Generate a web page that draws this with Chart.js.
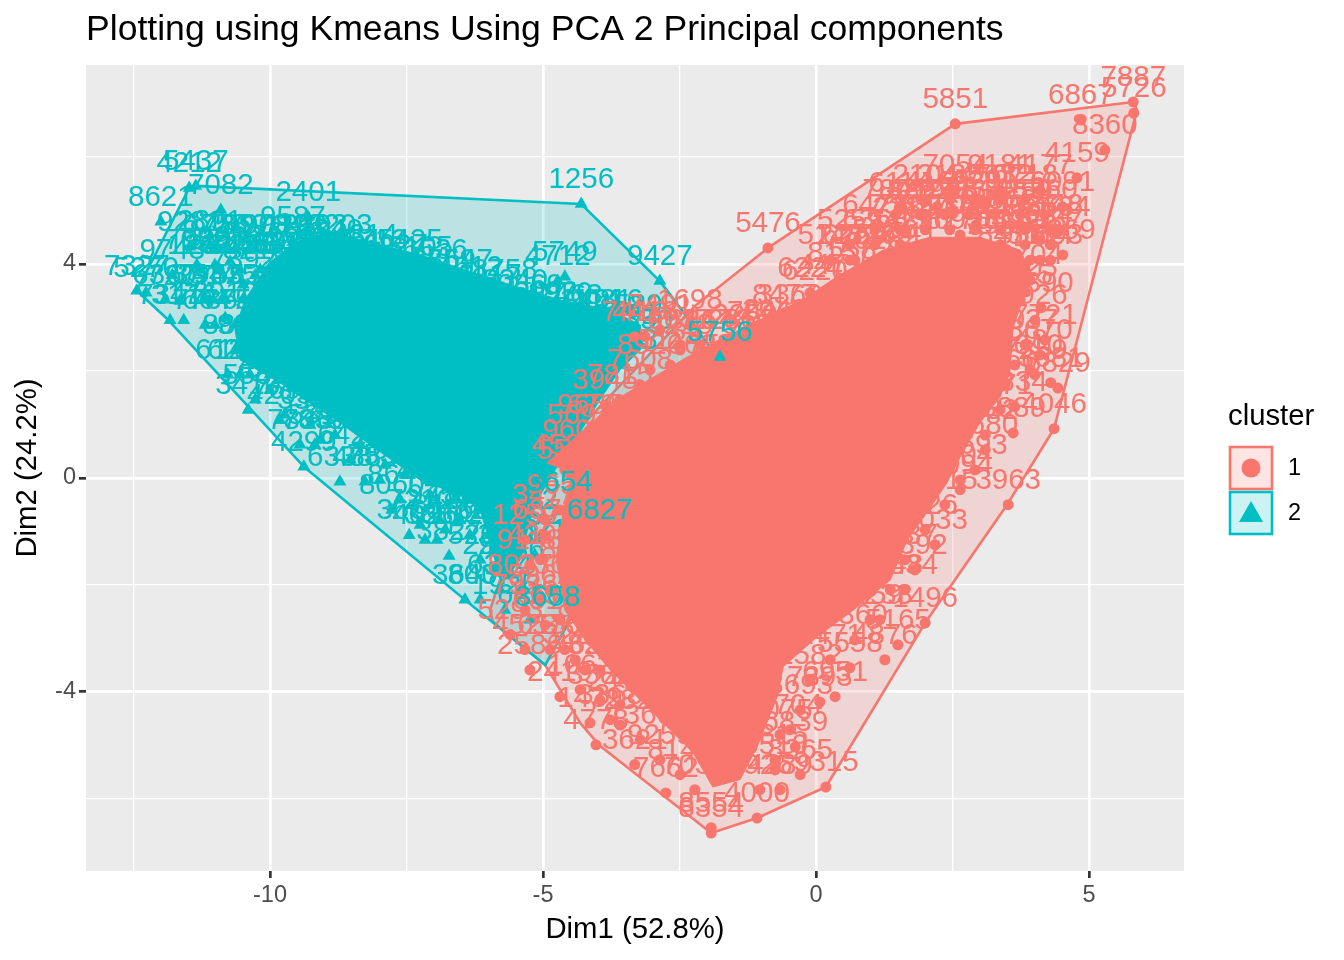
<!DOCTYPE html>
<html>
<head>
<meta charset="utf-8">
<script src="https://cdn.jsdelivr.net/npm/chart.js@4/dist/chart.umd.js"></script>
<style>
body { margin: 0; background: #fff; }
</style>
</head>
<body>
<canvas id="myChart" width="1344" height="960"></canvas>
<script>
"use strict";
const FONT = '"Liberation Sans", Arial, sans-serif';
const PINK = "#F8766D";
const TEAL = "#00BFC4";

const titleText = "Plotting using Kmeans Using PCA 2 Principal components";
const xAxisTitle = "Dim1 (52.8%)";
const yAxisTitle = "Dim2 (24.2%)";
const legendTitle = "cluster";
const clusterNames = ["1", "2"];

const xMajor = [-10, -5, 0, 5];
const xMinor = [-12.5, -7.5, -2.5, 2.5];
const yMajor = [-4, 0, 4];
const yMinor = [-6, -2, 2, 6];

// convex hulls
const hull1X = [2.55, 5.81, 5.88, 4.52, 4.36, 3.50, 2.00, 0.18, -1.08, -1.92, -3.96, -4.32, -4.96, -5.92, -5.97, -5.42, -4.93, -2.20, -0.88, 2.55];
const hull1Y = [6.62, 7.03, 6.88, 1.55, 0.92, -0.50, -2.71, -5.78, -6.36, -6.64, -5.01, -4.58, -3.50, -2.69, -2.47, -0.79, 0.28, 3.23, 4.30, 6.62];
const hull2X = [-12.44, -11.48, -11.36, -4.30, -2.86, -1.83, -4.96, -6.43, -9.38, -11.90, -12.44];
const hull2Y = [3.50, 5.42, 5.46, 5.12, 3.68, 2.30, -3.50, -2.28, 0.21, 2.99, 3.50];

// outline of the parts where points and labels overlap into a solid mass
const mass1X = [-4.93, -3.59, -2.36, -1.15, -0.24, 0.38, 1.23, 2.09, 3.00, 3.74, 3.97, 3.79, 3.61, 3.55, 3.37, 3.00, 2.64, 2.40, 2.03, 1.67, 1.36, 0.62, 0.02, -0.60, -0.71, -1.08, -1.39, -1.89, -2.25, -2.73, -3.22, -3.77, -4.23, -4.60, -4.76, -4.60, -4.45, -4.93];
const mass1Y = [0.28, 1.51, 2.26, 2.90, 3.33, 3.76, 4.26, 4.50, 4.50, 4.26, 3.76, 3.33, 2.82, 1.96, 1.51, 1.03, 0.39, -0.09, -0.65, -1.16, -1.91, -2.52, -2.97, -3.53, -4.09, -5.03, -5.64, -5.78, -5.14, -4.65, -4.15, -3.59, -3.03, -2.47, -1.53, -0.41, 0.09, 0.28];
const mass2X = [-10.46, -10.00, -9.45, -8.90, -7.99, -7.25, -6.04, -5.60, -4.69, -3.77, -3.22, -3.22, -3.59, -3.96, -4.41, -4.78, -5.05, -5.24, -5.42, -5.70, -5.88, -6.15, -6.52, -7.25, -8.11, -8.72, -9.82, -10.55, -10.64, -10.46];
const mass2Y = [3.33, 4.04, 4.45, 4.60, 4.36, 4.17, 3.76, 3.61, 3.33, 3.14, 2.86, 2.39, 2.02, 1.46, 0.71, 0.15, -0.32, -0.79, -1.53, -1.91, -1.53, -0.60, -0.32, -0.04, 0.58, 1.03, 1.78, 2.21, 2.77, 3.33];

// individually readable points, cluster 1
const ids1 = ["5851", "7887", "5726", "6867", "8360", "4159", "4177", "6091", "5476", "7054", "9181", "6114", "2385", "4169", "6291", "7924", "1854", "8684", "3684", "8634", "7369", "5164", "2958", "4623", "7023", "5390", "7721", "3670", "9010", "6829", "3681", "3834", "3889", "4046", "3963", "2680", "1094", "7033", "6392", "1834", "1496", "5165", "8233", "4876", "5558", "6951", "7393", "6839", "4075", "6510", "8265", "9315", "4289", "4000", "8354", "8554", "7662", "3621", "4778", "7282", "1439", "3368", "2419", "1062", "2586", "4523", "5293", "6135", "3289", "9106", "8251", "7935", "1358", "5962", "8422", "4309", "6873", "9650", "5517", "9602", "9655", "3945", "7608", "5124", "4413", "7419", "7491", "1698", "5228", "8867", "2867", "7046", "8477", "6224", "6220", "8157", "2277", "5286", "7026", "3541", "4628", "7529", "9133", "2048"];
const pts1X = [2.55, 5.81, 5.82, 4.85, 5.29, 4.78, 4.10, 4.51, -0.88, 2.55, 3.37, 1.54, 1.63, 2.22, 3.10, 1.99, 2.93, 3.74, 4.10, 4.43, 4.52, 4.10, 3.37, 2.64, 3.83, 4.12, 4.19, 4.10, 3.92, 4.43, 4.30, 3.64, 3.61, 4.36, 3.52, 3.10, 2.64, 2.18, 1.81, 1.63, 2.00, 1.50, 1.17, 1.26, 0.62, 0.35, 0.07, -0.38, -0.66, -0.75, -0.29, 0.18, -0.66, -1.08, -1.92, -1.92, -2.75, -3.32, -4.03, -3.59, -4.14, -3.77, -4.69, -4.32, -5.24, -5.33, -5.60, -4.87, -4.41, -4.14, -3.96, -4.69, -3.77, -5.05, -4.45, -5.05, -4.96, -4.69, -4.51, -4.41, -4.14, -3.86, -3.22, -2.67, -3.13, -3.32, -2.86, -2.31, -2.49, -2.12, -1.39, -1.03, -0.57, -0.11, -0.02, 0.44, 0.62, 1.26, 0.99, 1.63, -2.12, -1.76, -1.12, -0.75];
const pts1Y = [6.62, 7.03, 6.82, 6.69, 6.13, 5.61, 5.38, 5.07, 4.30, 5.38, 5.38, 5.05, 4.58, 5.07, 5.10, 4.92, 4.73, 4.73, 4.45, 4.60, 4.17, 4.07, 4.26, 4.54, 3.48, 3.18, 2.58, 2.30, 2.02, 1.68, 1.78, 1.33, 0.84, 0.92, -0.50, 0.52, -0.22, -1.25, -1.72, -2.09, -2.71, -3.12, -2.65, -3.40, -3.55, -4.09, -4.19, -5.03, -4.80, -5.46, -5.55, -5.78, -5.83, -6.36, -6.64, -6.54, -5.89, -5.36, -4.99, -4.62, -4.58, -4.52, -4.09, -3.96, -3.59, -3.21, -2.93, -3.21, -3.40, -3.03, -3.59, -2.65, -3.03, -2.28, -1.81, -1.53, -1.07, -0.60, 0.06, 0.43, 0.90, 1.36, 1.74, 2.11, 2.64, 2.64, 2.77, 2.86, 2.39, 2.49, 2.49, 2.64, 2.95, 3.46, 3.40, 3.74, 4.07, 4.17, 3.98, 4.11, 2.02, 2.02, 2.39, 2.67];

// overlapping points round the edge of the cluster 1 mass, labels estimated
const fringe1Ids = ["2104", "3187", "4450", "5632", "6718", "7805", "8893", "1926", "2037", "3148",
    "4259", "5360", "6471", "7582", "8693", "9704", "1815", "2926", "3037", "4148",
    "5259", "6360", "7471", "8582", "9693", "1704", "2815", "3926", "4037", "5148",
    "6259", "7360", "8471", "9582", "1693", "2704", "3815", "4926", "5037", "6148",
    "7259", "8360", "9471", "1582", "2693", "3704", "4815", "5926", "6037", "7148",
    "8259", "9360", "1471", "2582", "3693", "4704", "5815", "6926", "7037", "8148",
    "9259", "1360", "2471", "3582", "4693", "5704", "6815", "7926", "8037", "9148",
    "1259", "2360", "3471", "4582", "5693", "6704", "7815", "8926", "9037", "1148",
    "2259", "3360", "4471", "5582"];
const fringe1X = [2.00, 2.45, 2.91, 3.37, 3.83,
    1.45, 1.90, 2.36, 2.82, 3.28, 3.74, 4.19,
    1.08, 1.54, 2.00, 2.45, 2.91, 3.37, 3.83, 4.29,
    0.62, 1.08, 1.54, 2.00, 2.45, 2.91, 3.37, 3.83, 4.29,
    0.26, 0.71, 1.17, 3.55, 3.92, 4.29,
    3.92, 3.74, 4.01, 3.83, 3.64, 4.01, 3.46, 3.37, 3.10, 2.91, 2.64, 2.36, 2.00, 1.63, 1.36, 0.99, 0.71, 0.26, -0.11, -0.29, -0.48, -0.75, -1.03,
    -2.22, -2.49, -2.86, -3.22, -3.59, -3.96, -4.23, -4.60, -4.96, -5.33, -5.42, -5.24, -5.33, -4.87, -4.96,
    -4.60, -4.32, -3.96, -3.59, -3.04, -2.49, -1.76, -1.30, -0.48, 0.26, 0.81];
const fringe1Y = [5.20, 5.20, 5.20, 5.20, 5.20,
    4.92, 4.92, 4.92, 4.92, 4.92, 4.92, 4.92,
    4.64, 4.64, 4.64, 4.64, 4.64, 4.64, 4.64, 4.64,
    4.36, 4.36, 4.36, 4.36, 4.36, 4.36, 4.36, 4.36, 4.36,
    4.07, 4.07, 4.07, 4.07, 4.07, 4.07,
    3.70, 3.33, 2.95, 2.49, 2.11, 1.93, 1.74, 1.27, 0.80, 0.15, -0.04, -0.50, -0.97, -1.53, -2.09, -2.65, -3.03, -3.40, -3.78, -4.34, -4.71, -5.27, -5.83,
    -5.83, -5.55, -5.27, -4.90, -4.24, -4.15, -3.59, -3.21, -2.75, -2.47, -2.09, -1.63, -1.16, -2.09, -0.79,
    0.15, 0.71, 0.90, 1.46, 2.02, 2.49, 2.49, 2.58, 2.95, 3.51, 3.79];

// individually readable points, cluster 2
const ids2 = ["1256", "9427", "4712", "5749", "2401", "9587", "7327", "5270", "9743", "6367", "7207", "7341", "3176", "9281", "2891", "8621", "4212", "5437", "7082", "7029", "9209", "9233", "2933", "3910", "7736", "6124", "6224", "3410", "4299", "7836", "7838", "6338", "4883", "8060", "3660", "3880", "3827", "3640", "4026", "7392", "8216", "5903", "4178", "6635", "2340", "6251", "5713", "6927", "3105", "2859", "4612", "2117", "8340", "6092", "7463", "1114", "4016", "1589", "7350", "8263", "4115", "5582", "7690", "3364", "2071", "9318", "1746", "6409", "4857", "2538", "8129", "4227", "6684", "5071", "3392", "7210", "8146", "7521", "2973", "4736", "8037", "1925", "6460"];
const pts2X = [-4.30, -2.86, -4.73, -4.60, -9.30, -9.58, -12.44, -12.27, -11.79, -11.92, -11.65, -11.83, -11.58, -11.47, -11.10, -12.00, -11.48, -11.36, -10.90, -11.34, -11.01, -10.73, -11.10, -10.82, -11.19, -10.77, -10.55, -10.40, -9.38, -9.45, -9.18, -8.72, -8.26, -7.77, -7.45, -6.94, -6.72, -6.43, -7.16, -10.49, -10.27, -10.00, -9.73, -9.45, -8.90, -8.53, -8.08, -7.71, -7.25, -6.83, -6.34, -5.97, -5.51, -4.96, -4.51, -4.14, -3.77, -3.41, -3.22, -3.50, -10.00, -10.27, -9.73, -9.27, -8.81, -8.35, -7.89, -7.53, -7.07, -6.61, -6.15, -6.34, -5.97, -5.70, -5.33, -7.25, -6.79, -5.15, -5.88, -5.57, -6.15, -5.70, -5.24];
const pts2Y = [5.12, 3.68, 3.68, 3.76, 4.88, 4.41, 3.50, 3.46, 3.79, 3.33, 3.31, 2.95, 2.95, 4.32, 4.34, 4.79, 5.42, 5.46, 5.01, 3.98, 3.98, 4.04, 3.33, 2.99, 2.86, 1.93, 1.93, 1.27, 0.21, 0.62, 0.62, -0.07, -0.07, -0.60, -1.07, -1.16, -1.46, -2.28, -1.16, 3.61, 3.79, 3.93, 4.04, 4.11, 4.17, 3.98, 3.98, 3.89, 3.85, 3.61, 3.48, 3.33, 3.23, 3.01, 2.95, 2.86, 2.86, 2.77, 2.49, 2.11, 1.64, 1.46, 1.18, 0.99, 0.80, 0.62, 0.24, 0.06, -0.32, -0.41, -0.60, -1.07, -1.07, -0.79, -0.88, -0.88, -0.97, -1.44, -1.72, -1.81, -2.28, -2.47, -2.65];

// overlapping points round the edge of the cluster 2 mass, labels estimated
const fringe2Ids = ["1203", "2314", "3425", "4536", "5647", "6758", "7869", "8970", "9081", "1192",
    "2203", "3314", "4425", "5536", "6647", "7758", "8869", "9970", "1081", "2192",
    "3203", "4314", "5425", "6536", "7647", "8758", "9869", "1970", "2081", "3192",
    "4203", "5314", "6425", "7536", "8647", "9758", "1869", "2970", "3081", "4192",
    "5203", "6314"];
const fringe2X = [-11.28, -10.92, -10.55, -10.18, -9.82,
    -11.01, -10.64, -10.27, -9.91, -9.54, -9.18,
    -11.19, -10.82, -10.46,
    -11.01, -10.64,
    -10.64, -10.37,
    -10.37, -10.00,
    -8.72, -8.26, -7.44, -6.98, -6.52, -5.70, -5.24, -4.69, -3.96, -3.50,
    -9.82, -9.08, -8.53, -7.99, -7.62, -6.89, -6.52, -5.79, -5.60, -5.24, -6.15, -5.79];
const fringe2Y = [3.89, 3.89, 3.89, 3.89, 3.89,
    4.26, 4.26, 4.26, 4.26, 4.26, 4.26,
    3.33, 3.33, 3.33,
    2.86, 2.86,
    2.39, 2.39,
    1.93, 1.93,
    4.26, 4.07, 3.98, 3.79, 3.61, 3.42, 3.14, 2.99, 2.86, 2.58,
    1.08, 0.71, 0.34, -0.04, -0.41, -0.79, -0.79, -1.16, -1.53, -1.16, -1.53, -2.09];

// cluster 2 labels that sit on top of cluster 1
const idsTop = ["3658", "5756", "6827", "3654"];
const topX = [-4.91, -1.76, -3.96, -4.69];
const topY = [-2.69, 2.26, -1.07, -0.54];

function xy(xs, ys) {
    return xs.map((x, i) => ({ x: x, y: ys[i] }));
}

function hullDataset(xs, ys, color, fillColor, order) {
    return {
        data: xy(xs, ys),
        showLine: true,
        fill: "shape",
        borderColor: color,
        backgroundColor: fillColor,
        borderWidth: 2.6,
        borderJoinStyle: "round",
        pointRadius: 0,
        order: order,
    };
}

function massDataset(xs, ys, color, order) {
    return {
        data: xy(xs, ys),
        showLine: true,
        fill: "shape",
        borderColor: color,
        backgroundColor: color,
        borderWidth: 1,
        pointRadius: 0,
        order: order,
    };
}

function pointDataset(xs, ys, ids, color, style, radius, order) {
    return {
        data: xy(xs, ys),
        ids: ids,
        labelColor: color,
        showLine: false,
        pointStyle: style,
        pointRadius: radius,
        pointBackgroundColor: color,
        pointBorderColor: color,
        pointBorderWidth: 0,
        order: order,
    };
}

// panel background
const panelPlugin = {
    id: "panel",
    beforeDraw(chart) {
        const a = chart.chartArea;
        const ctx = chart.ctx;
        ctx.save();
        ctx.fillStyle = "#EBEBEB";
        ctx.fillRect(a.left, a.top, a.width, a.height);
        ctx.restore();
    },
};

// text label above each point, clipped to the panel
const labelPlugin = {
    id: "pointLabels",
    afterDatasetDraw(chart, args) {
        const ds = chart.data.datasets[args.index];
        if (!ds.ids) return;
        const a = chart.chartArea;
        const ctx = chart.ctx;
        ctx.save();
        ctx.beginPath();
        ctx.rect(a.left, a.top, a.width, a.height);
        ctx.clip();
        ctx.font = "29.5px " + FONT;
        ctx.fillStyle = ds.labelColor;
        ctx.textAlign = "center";
        ctx.textBaseline = "alphabetic";
        ds.data.forEach((p, i) => {
            const px = chart.scales.x.getPixelForValue(p.x);
            const py = chart.scales.y.getPixelForValue(p.y);
            ctx.fillText(ds.ids[i], px, py - 16);
        });
        ctx.restore();
    },
};

const legendPlugin = {
    id: "clusterLegend",
    afterDraw(chart) {
        const ctx = chart.ctx;
        ctx.save();
        ctx.fillStyle = "#000";
        ctx.textBaseline = "middle";
        ctx.textAlign = "left";
        ctx.font = "29.3px " + FONT;
        ctx.fillText(legendTitle, 1228, 417);
        const colors = [PINK, TEAL];
        const fills = ["rgba(248,118,109,0.2)", "rgba(0,191,196,0.2)"];
        clusterNames.forEach((name, i) => {
            const top = 447 + i * 45;
            ctx.fillStyle = "#fff";
            ctx.fillRect(1230, top, 42, 42);
            ctx.fillStyle = fills[i];
            ctx.fillRect(1230, top, 42, 42);
            ctx.strokeStyle = colors[i];
            ctx.lineWidth = 2.6;
            ctx.strokeRect(1230, top, 42, 42);
            ctx.fillStyle = colors[i];
            ctx.textAlign = "center";
            ctx.font = "22px " + FONT;
            ctx.fillText("a", 1251, top + 23);
            ctx.beginPath();
            if (i === 0) {
                ctx.arc(1251, top + 21, 9.5, 0, Math.PI * 2);
            } else {
                ctx.moveTo(1251, top + 9);
                ctx.lineTo(1263, top + 30);
                ctx.lineTo(1239, top + 30);
                ctx.closePath();
            }
            ctx.fill();
            ctx.fillStyle = "#000";
            ctx.textAlign = "left";
            ctx.font = "23.5px " + FONT;
            ctx.fillText(name, 1288, top + 22);
        });
        ctx.restore();
    },
};

function gridOptions(majors) {
    const isMajor = (c) => c.tick && majors.includes(c.tick.value);
    return {
        color: "#FFFFFF",
        lineWidth: (c) => (isMajor(c) ? 2.7 : 1.35),
        tickColor: (c) => (isMajor(c) ? "#333333" : "rgba(0,0,0,0)"),
        tickWidth: 2.7,
        tickLength: 7,
        drawTicks: true,
    };
}

const topDataset = pointDataset(topX, topY, idsTop, TEAL, "triangle", 0, 0);
topDataset.pointRadius = (c) => (idsTop[c.dataIndex] === "5756" ? 7.5 : 0);

const config = {
    type: "scatter",
    data: {
        datasets: [
            hullDataset(hull1X, hull1Y, PINK, "rgba(248,118,109,0.2)", 6),
            hullDataset(hull2X, hull2Y, TEAL, "rgba(0,191,196,0.2)", 5),
            massDataset(mass2X, mass2Y, TEAL, 4),
            pointDataset(pts2X.concat(fringe2X), pts2Y.concat(fringe2Y), ids2.concat(fringe2Ids), TEAL, "triangle", 7.5, 3),
            massDataset(mass1X, mass1Y, PINK, 2),
            pointDataset(pts1X.concat(fringe1X), pts1Y.concat(fringe1Y), ids1.concat(fringe1Ids), PINK, "circle", 5.5, 1),
            topDataset,
        ],
    },
    plugins: [panelPlugin, labelPlugin, legendPlugin],
    options: {
        responsive: false,
        animation: false,
        layout: { padding: { left: 0, right: 160, top: 0, bottom: 0 } },
        plugins: {
            legend: { display: false },
            tooltip: { enabled: false },
            title: {
                display: true,
                text: titleText,
                align: "start",
                fullSize: false,
                color: "#000",
                font: { family: FONT, size: 35.6, weight: "normal", lineHeight: 1.2 },
                padding: { top: 9, bottom: 13.3 },
            },
        },
        scales: {
            x: {
                type: "linear",
                min: -13.37,
                max: 6.74,
                afterFit: (s) => { s.height = 89; },
                afterBuildTicks: (s) => {
                    s.ticks = xMinor.concat(xMajor).sort((a, b) => a - b).map((v) => ({ value: v }));
                },
                border: { display: false },
                grid: gridOptions(xMajor),
                ticks: {
                    autoSkip: false,
                    maxRotation: 0,
                    padding: 3,
                    color: "#4D4D4D",
                    font: { family: FONT, size: 23.5 },
                    callback: (v) => (xMajor.includes(v) ? String(v) : ""),
                },
                title: {
                    display: true,
                    text: xAxisTitle,
                    color: "#000",
                    font: { family: FONT, size: 29.3 },
                    padding: { top: 0, bottom: 13 },
                },
            },
            y: {
                type: "linear",
                min: -7.35,
                max: 7.72,
                afterFit: (s) => { s.width = 86; },
                afterBuildTicks: (s) => {
                    s.ticks = yMinor.concat(yMajor).sort((a, b) => a - b).map((v) => ({ value: v }));
                },
                border: { display: false },
                grid: gridOptions(yMajor),
                ticks: {
                    autoSkip: false,
                    maxRotation: 0,
                    padding: 3,
                    color: "#4D4D4D",
                    font: { family: FONT, size: 23.5 },
                    callback: (v) => (yMajor.includes(v) ? String(v) : ""),
                },
                title: {
                    display: true,
                    text: yAxisTitle,
                    color: "#000",
                    font: { family: FONT, size: 29.3 },
                    padding: { top: 10, bottom: 0 },
                },
            },
        },
    },
};

const myChart = new Chart(document.getElementById("myChart"), config);
</script>
</body>
</html>
